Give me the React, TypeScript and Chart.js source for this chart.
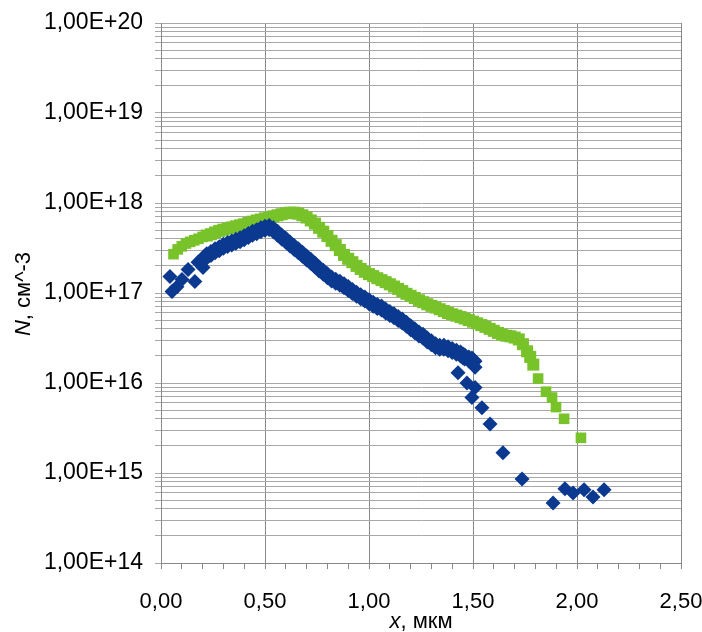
import React, { useEffect, useRef } from 'react';
import { Chart, registerables } from 'chart.js';

Chart.register(...registerables);

// Series 1 (blue diamonds): x in µm, N in cm^-3
const blueX = [
  0.043, 0.053, 0.077, 0.101, 0.13, 0.163, 0.178, 0.202, 0.21,
  0.22, 0.24, 0.26, 0.28, 0.3, 0.32, 0.34, 0.36, 0.38, 0.4, 0.42, 0.44, 0.46, 0.48, 0.5,
  0.52, 0.54, 0.56, 0.58, 0.6, 0.62, 0.64, 0.66, 0.68, 0.7, 0.72, 0.74, 0.76, 0.78, 0.8,
  0.82, 0.84, 0.86, 0.88, 0.9, 0.92, 0.94, 0.96, 0.98, 1.0, 1.02, 1.04, 1.06, 1.08, 1.1,
  1.12, 1.14, 1.16, 1.18, 1.2, 1.22, 1.24, 1.26, 1.28, 1.3, 1.32, 1.34, 1.36, 1.38, 1.4,
  1.42, 1.44, 1.46, 1.48, 1.5,
  1.452, 1.495, 1.51, 1.428, 1.471, 1.51, 1.495, 1.543, 1.582, 1.644, 1.736,
  1.885, 1.942, 1.981, 2.034, 2.077, 2.13,
];
const blueY = [
  1.53e17, 1.04e17, 1.17e17, 1.41e17, 1.83e17, 1.34e17, 2.19e17, 1.92e17, 2.45e17,
  2.6e17, 2.75e17, 2.95e17, 3.1e17, 3.3e17, 3.45e17, 3.6e17, 3.75e17, 3.9e17, 4.1e17, 4.35e17, 4.6e17, 4.8e17, 5.05e17, 5.25e17,
  5.35e17, 5.05e17, 4.6e17, 4.2e17, 3.85e17, 3.5e17, 3.2e17, 2.95e17, 2.7e17, 2.45e17, 2.25e17, 2.05e17, 1.85e17, 1.7e17, 1.55e17,
  1.43e17, 1.35e17, 1.28e17, 1.2e17, 1.12e17, 1.04e17, 9.7e16, 9.1e16, 8.6e16, 8.0e16, 7.5e16, 7.1e16, 6.8e16, 6.3e16, 5.9e16,
  5.6e16, 5.2e16, 4.9e16, 4.5e16, 4.1e16, 3.8e16, 3.5e16, 3.3e16, 3.0e16, 2.8e16, 2.6e16, 2.5e16, 2.5e16, 2.4e16, 2.3e16,
  2.2e16, 2.1e16, 1.95e16, 1.85e16, 1.75e16,
  2.0e16, 1.8e16, 1.5e16, 1.3e16, 1.0e16, 8.9e15, 6.9e15, 5.3e15, 3.5e15, 1.68e15, 8.6e14,
  4.65e14, 6.7e14, 6.0e14, 6.5e14, 5.4e14, 6.5e14,
];

// Series 2 (green squares)
const greenX = [
  0.06, 0.08, 0.1, 0.12, 0.14, 0.16, 0.18, 0.2, 0.22, 0.24, 0.26, 0.28, 0.3, 0.32, 0.34, 0.36, 0.38, 0.4,
  0.42, 0.44, 0.46, 0.48, 0.5, 0.52, 0.54, 0.56, 0.58, 0.6, 0.62, 0.64, 0.66, 0.68, 0.7, 0.72, 0.74, 0.76,
  0.78, 0.8, 0.82, 0.84, 0.86, 0.88, 0.9, 0.92, 0.94, 0.96, 0.98, 1.0, 1.02, 1.04, 1.06, 1.08, 1.1, 1.12,
  1.14, 1.16, 1.18, 1.2, 1.22, 1.24, 1.26, 1.28, 1.3, 1.32, 1.34, 1.36, 1.38, 1.4, 1.42, 1.44, 1.46, 1.48,
  1.5, 1.52, 1.54, 1.56, 1.58, 1.6, 1.62, 1.64, 1.66, 1.68, 1.7, 1.72, 1.74, 1.76, 1.775, 1.79,
  1.813, 1.851, 1.88, 1.899, 1.938, 2.019,
];
const greenY = [
  2.7e17, 3.05e17, 3.3e17, 3.55e17, 3.7e17, 3.85e17, 4.0e17, 4.2e17, 4.35e17, 4.5e17, 4.7e17, 4.9e17, 5.05e17, 5.2e17, 5.35e17, 5.5e17, 5.65e17, 5.8e17,
  6.0e17, 6.2e17, 6.4e17, 6.55e17, 6.75e17, 6.9e17, 7.1e17, 7.3e17, 7.5e17, 7.7e17, 7.8e17, 7.8e17, 7.6e17, 7.3e17, 6.9e17, 6.4e17, 5.9e17, 5.3e17,
  4.8e17, 4.3e17, 3.8e17, 3.4e17, 3.0e17, 2.65e17, 2.4e17, 2.2e17, 2.0e17, 1.85e17, 1.72e17, 1.62e17, 1.54e17, 1.46e17, 1.39e17, 1.32e17, 1.25e17, 1.18e17,
  1.11e17, 1.05e17, 9.8e16, 9.3e16, 8.8e16, 8.3e16, 7.9e16, 7.5e16, 7.2e16, 6.9e16, 6.6e16, 6.3e16, 6.0e16, 5.8e16, 5.6e16, 5.4e16, 5.2e16, 5.0e16,
  4.8e16, 4.6e16, 4.4e16, 4.2e16, 4.0e16, 3.8e16, 3.6e16, 3.45e16, 3.35e16, 3.3e16, 3.2e16, 3.05e16, 2.7e16, 2.25e16, 1.95e16, 1.6e16,
  1.12e16, 8.0e15, 6.9e15, 5.4e15, 4.0e15, 2.46e15,
];

const xMajorTicks = [0, 0.5, 1.0, 1.5, 2.0, 2.5];
const xTickLabels = ['0,00', '0,50', '1,00', '1,50', '2,00', '2,50'];
const yDecadeExponents = [14, 15, 16, 17, 18, 19, 20];
const yTickLabels = ['1,00E+14', '1,00E+15', '1,00E+16', '1,00E+17', '1,00E+18', '1,00E+19', '1,00E+20'];
const xTitleParts = [{ t: 'x', italic: true }, { t: ', мкм', italic: false }];
const yTitleParts = [{ t: 'N', italic: true }, { t: ', см^-3', italic: false }];

const FONT_FAMILY = "'Liberation Sans', Arial, sans-serif";
const BLUE = '#0b3990';
const GREEN = '#78c22a';
const H_GRID = '#a8a8a8';
const V_GRID = '#888888';

function isXMajor(v: number) {
  return xMajorTicks.some((m) => Math.abs(m - v) < 1e-6);
}

function drawParts(ctx: CanvasRenderingContext2D, parts: { t: string; italic: boolean }[], size: number) {
  const fonts = parts.map((p) => `${p.italic ? 'italic ' : ''}${size}px ${FONT_FAMILY}`);
  const widths = parts.map((p, i) => {
    ctx.font = fonts[i];
    return ctx.measureText(p.t).width;
  });
  const total = widths.reduce((a, b) => a + b, 0);
  let x = -total / 2;
  ctx.textAlign = 'left';
  ctx.textBaseline = 'middle';
  ctx.fillStyle = '#000';
  parts.forEach((p, i) => {
    ctx.font = fonts[i];
    ctx.fillText(p.t, x, 0);
    x += widths[i];
  });
}

const titlePlugin = {
  id: 'axisTitlesMixed',
  afterDraw(chart: any) {
    const ctx: CanvasRenderingContext2D = chart.ctx;
    const area = chart.chartArea;
    ctx.save();
    ctx.translate((area.left + area.right) / 2, 622);
    drawParts(ctx, xTitleParts, 22);
    ctx.restore();
    ctx.save();
    ctx.translate(24, 294);
    ctx.rotate(-Math.PI / 2);
    drawParts(ctx, yTitleParts, 22);
    ctx.restore();
  },
};

// dense part of each profile is drawn with slightly larger markers (overlapping band)
const inBand = (p: any) => p && p.x >= 0.21 && p.x <= 1.79 && p.y >= 1.6e16;
const blueRadius = (c: any) => (inBand(c.raw) ? 9.5 : 7.5);
const greenRadius = (c: any) => (c.raw && c.raw.x >= 0.07 && inBand(c.raw) ? 8.5 : 7.5);

export default function App() {
  const canvasRef = useRef<HTMLCanvasElement | null>(null);

  useEffect(() => {
    if (!canvasRef.current) return;
    const blue = blueX.map((x, i) => ({ x, y: blueY[i] }));
    const green = greenX.map((x, i) => ({ x, y: greenY[i] }));
    const chart = new Chart(canvasRef.current, {
      type: 'scatter',
      data: {
        datasets: [
          {
            label: 'series1',
            data: blue,
            pointStyle: 'rectRot',
            pointRadius: blueRadius,
            pointHoverRadius: blueRadius,
            backgroundColor: BLUE,
            borderColor: BLUE,
            borderWidth: 0,
          },
          {
            label: 'series2',
            data: green,
            pointStyle: 'rect',
            pointRadius: greenRadius,
            pointHoverRadius: greenRadius,
            backgroundColor: GREEN,
            borderColor: GREEN,
            borderWidth: 0,
          },
        ],
      },
      options: {
        responsive: false,
        animation: false,
        events: [],
        layout: { padding: { top: 23, right: 21, left: 0, bottom: 0 } },
        plugins: {
          legend: { display: false },
          tooltip: { enabled: false },
          title: { display: false },
        },
        scales: {
          x: {
            type: 'linear',
            min: 0,
            max: 2.5,
            afterBuildTicks: (scale: any) => {
              const t = [];
              for (let i = 0; i <= 25; i++) t.push({ value: i / 10 });
              scale.ticks = t;
            },
            afterFit: (scale: any) => {
              scale.height = 69;
              scale.paddingLeft = 0;
              scale.paddingRight = 0;
            },
            grid: {
              color: (c: any) => (c.tick && isXMajor(c.tick.value) ? V_GRID : 'rgba(0,0,0,0)'),
              tickColor: V_GRID,
              tickLength: 6,
              lineWidth: 1,
              drawTicks: true,
            },
            border: { color: V_GRID, width: 1 },
            ticks: {
              autoSkip: false,
              maxRotation: 0,
              minRotation: 0,
              padding: 20,
              color: '#000',
              font: { family: FONT_FAMILY, size: 22 },
              callback: (v: any) => {
                const idx = xMajorTicks.findIndex((m) => Math.abs(m - Number(v)) < 1e-6);
                return idx >= 0 ? xTickLabels[idx] : '';
              },
            },
          },
          y: {
            type: 'logarithmic',
            min: 1e14,
            max: 1e20,
            afterBuildTicks: (scale: any) => {
              const t = [];
              for (let e = 14; e < 20; e++) {
                for (let s = 1; s <= 9; s++) t.push({ value: Number(`${s}e${e}`) });
              }
              t.push({ value: 1e20 });
              scale.ticks = t;
            },
            afterFit: (scale: any) => {
              scale.width = 161;
              scale.paddingTop = 0;
              scale.paddingBottom = 0;
            },
            grid: {
              color: H_GRID,
              tickColor: H_GRID,
              tickLength: 6,
              lineWidth: 1,
            },
            border: { color: V_GRID, width: 1 },
            ticks: {
              autoSkip: false,
              padding: 12,
              color: '#000',
              font: { family: FONT_FAMILY, size: 23 },
              callback: (v: any) => {
                const val = Number(v);
                const idx = yDecadeExponents.findIndex((e) => Math.abs(val / Number(`1e${e}`) - 1) < 1e-9);
                return idx >= 0 ? yTickLabels[idx] : '';
              },
            },
          },
        },
      },
      plugins: [titlePlugin],
    } as any);
    return () => chart.destroy();
  }, []);

  return (
    <div style={{ position: 'fixed', left: 0, top: 0, width: 702, height: 632, background: '#fff' }}>
      <canvas ref={canvasRef} width={702} height={632} style={{ display: 'block' }} />
    </div>
  );
}
